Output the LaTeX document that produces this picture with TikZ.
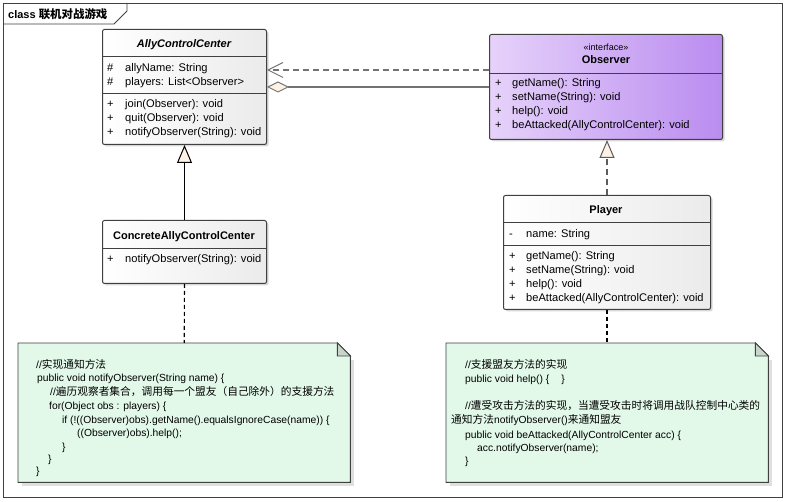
\documentclass[tikz,border=0pt]{standalone}
\usepackage{fontspec}
\setmainfont{Liberation Sans}
\newfontfamily\cjk[Scale=1.04]{Noto Sans CJK SC}
\usetikzlibrary{arrows.meta,shadows}

\definecolor{boxline}{RGB}{64,64,64}
\definecolor{ifaceleft}{RGB}{230,210,250}
\definecolor{ifaceright}{RGB}{186,140,240}
\definecolor{notefill}{RGB}{226,248,233}
\definecolor{foldfill}{RGB}{200,214,202}
\definecolor{tipfill}{RGB}{253,242,228}
\definecolor{linkgray}{RGB}{115,115,115}

\begin{document}
\begin{tikzpicture}[x=1pt, y=-1pt,
    classbox/.style={draw=boxline, line width=1pt, rounded corners=2pt, anchor=north west,
      inner sep=0, left color=white, right color=gray!16,
      drop shadow={shadow xshift=2pt, shadow yshift=-2pt, opacity=0.3}},
    ifacebox/.style={classbox, left color=ifaceleft, right color=ifaceright},
    divider/.style={draw=boxline, line width=1pt},
    ctitle/.style={inner sep=0, font=\fontsize{11}{13}\selectfont\bfseries},
    member/.style={anchor=west, inner sep=0, font=\fontsize{11.1}{13}\selectfont,
      text height=7.5pt, text depth=2pt},
    code/.style={anchor=west, inner sep=0, font=\fontsize{10.3}{12}\selectfont,
      text height=7.5pt, text depth=2.5pt},
    notearea/.style={anchor=north west, inner sep=0, draw=none},
    noteline/.style={draw=boxline, line width=0.9pt, fill=notefill},
    notefold/.style={draw=boxline, line width=0.9pt, fill=foldfill},
    noteshadow/.style={fill=gray!25},
    depline/.style={draw=linkgray, line width=1.2pt, dash pattern=on 6pt off 4pt,
      -{Straight Barb[length=15pt, width=15pt, line width=1pt]}},
    aggline/.style={draw=linkgray, line width=1.2pt,
      -{Diamond[length=22pt, width=11pt, fill=tipfill, line width=1pt]}},
    genline/.style={draw=black, line width=1.1pt,
      -{Triangle[length=18pt, width=15pt, fill=tipfill, line width=1pt]}},
    realline/.style={draw=linkgray!80!black, line width=1.2pt, dash pattern=on 6pt off 4pt,
      -{Triangle[length=18pt, width=15pt, fill=tipfill, line width=1pt]}},
    notelink/.style={draw=black, line width=1.1pt, dash pattern=on 4pt off 3pt},
  ]
  \fill[white] (0,0) rectangle (785,502);

  % --- frame and its tab ---
  \draw[boxline, line width=0.8pt] (3,3) rectangle (782,497);
  \draw[boxline, line width=0.8pt] (3,24) -- (114,24) -- (127,11) -- (127,3);
  \node[ctitle, anchor=west] (frametitle) at (8,14) {class {\cjk 联机对战游戏}};

  % --- AllyControlCenter ---
  \node[classbox, minimum width=164pt, minimum height=115pt] (acc) at (102,29) {};
  \draw[divider] (acc.west |- 0,57) -- (acc.east |- 0,57);
  \draw[divider] (acc.west |- 0,94) -- (acc.east |- 0,94);
  \node[ctitle, font=\fontsize{11}{13}\selectfont\bfseries\itshape] (acctitle) at (184,45) {AllyControlCenter};
  \node[member] (accv1) at (107,69) {\#};
  \node[member] (acca1) at (125,69) {allyName: String};
  \node[member] (accv2) at (107,83) {\#};
  \node[member] (acca2) at (125,83) {players: List<Observer>};
  \node[member] (accv3) at (107,105) {+};
  \node[member] (acco1) at (125,105) {join(Observer): void};
  \node[member] (accv4) at (107,119) {+};
  \node[member] (acco2) at (125,119) {quit(Observer): void};
  \node[member] (accv5) at (107,133) {+};
  \node[member] (acco3) at (125,133) {notifyObserver(String): void};

  % --- Observer (interface) ---
  \node[ifacebox, minimum width=233pt, minimum height=105pt] (observer) at (489,34) {};
  \draw[divider] (observer.west |- 0,74) -- (observer.east |- 0,74);
  \node[inner sep=0, font=\fontsize{9}{11}\selectfont] (obsstereo) at (606,47) {«interface»};
  \node[ctitle] (obstitle) at (606,60) {Observer};
  \node[member] (obsv1) at (495,84) {+};
  \node[member] (obso1) at (512,84) {getName(): String};
  \node[member] (obsv2) at (495,98) {+};
  \node[member] (obso2) at (512,98) {setName(String): void};
  \node[member] (obsv3) at (495,112) {+};
  \node[member] (obso3) at (512,112) {help(): void};
  \node[member] (obsv4) at (495,126) {+};
  \node[member] (obso4) at (512,126) {beAttacked(AllyControlCenter): void};

  % --- ConcreteAllyControlCenter ---
  \node[classbox, minimum width=164pt, minimum height=63pt] (cacc) at (102,220) {};
  \draw[divider] (cacc.west |- 0,249) -- (cacc.east |- 0,249);
  \node[ctitle] (cacctitle) at (184,237) {ConcreteAllyControlCenter};
  \node[member] (caccv1) at (107,260) {+};
  \node[member] (cacco1) at (125,260) {notifyObserver(String): void};

  % --- Player ---
  \node[classbox, minimum width=207pt, minimum height=114pt] (player) at (503,195) {};
  \draw[divider] (player.west |- 0,223) -- (player.east |- 0,223);
  \draw[divider] (player.west |- 0,246) -- (player.east |- 0,246);
  \node[ctitle] (playertitle) at (606,211) {Player};
  \node[member] (plv1) at (509,235) {-};
  \node[member] (pla1) at (526,235) {name: String};
  \node[member] (plv2) at (509,257) {+};
  \node[member] (plo1) at (526,257) {getName(): String};
  \node[member] (plv3) at (509,271) {+};
  \node[member] (plo2) at (526,271) {setName(String): void};
  \node[member] (plv4) at (509,285) {+};
  \node[member] (plo3) at (526,285) {help(): void};
  \node[member] (plv5) at (509,299) {+};
  \node[member] (plo4) at (526,299) {beAttacked(AllyControlCenter): void};

  % --- note for notifyObserver ---
  \node[notearea, minimum width=332pt, minimum height=139pt] (note1) at (18,343) {};
  \fill[noteshadow] ([shift={(4pt,-4pt)}]note1.south west) rectangle ([shift={(4pt,-17pt)}]note1.north east);
  \draw[noteline] (note1.south west) -- (note1.north west) -- ([xshift=-13pt]note1.north east)
    -- ([yshift=-13pt]note1.north east) -- (note1.south east) -- cycle;
  \draw[notefold] ([xshift=-13pt]note1.north east) -- ([xshift=-13pt, yshift=-13pt]note1.north east)
    -- ([yshift=-13pt]note1.north east) -- cycle;
  \node[code] (n1l1) at (36,366) {//{\cjk 实现通知方法}};
  \node[code] (n1l2) at (37,379) {public void notifyObserver(String name) \{};
  \node[code] (n1l3) at (50,393) {//{\cjk 遍历观察者集合，调用每一个盟友（自己除外）的支援方法}};
  \node[code] (n1l4) at (49,407) {for(Object obs : players) \{};
  \node[code] (n1l5) at (62,421) {if (!((Observer)obs).getName().equalsIgnoreCase(name)) \{};
  \node[code] (n1l6) at (77,434) {((Observer)obs).help();};
  \node[code] (n1l7) at (62,448) {\}};
  \node[code] (n1l8) at (48,460) {\}};
  \node[code] (n1l9) at (36,472) {\}};

  % --- note for help / beAttacked ---
  \node[notearea, minimum width=322pt, minimum height=139pt] (note2) at (446,343) {};
  \fill[noteshadow] ([shift={(4pt,-4pt)}]note2.south west) rectangle ([shift={(4pt,-17pt)}]note2.north east);
  \draw[noteline] (note2.south west) -- (note2.north west) -- ([xshift=-13pt]note2.north east)
    -- ([yshift=-13pt]note2.north east) -- (note2.south east) -- cycle;
  \draw[notefold] ([xshift=-13pt]note2.north east) -- ([xshift=-13pt, yshift=-13pt]note2.north east)
    -- ([yshift=-13pt]note2.north east) -- cycle;
  \node[code] (n2l1) at (465,366) {//{\cjk 支援盟友方法的实现}};
  \node[code] (n2l2) at (465,380) {public void help() \{\hspace{12pt}\}};
  \node[code] (n2l3) at (465,407) {//{\cjk 遭受攻击方法的实现，当遭受攻击时将调用战队控制中心类的}};
  \node[code] (n2l4) at (451,421) {{\cjk 通知方法}notifyObserver(){\cjk 来通知盟友}};
  \node[code] (n2l5) at (465,436) {public void beAttacked(AllyControlCenter acc) \{};
  \node[code] (n2l6) at (477,449) {acc.notifyObserver(name);};
  \node[code] (n2l7) at (465,462) {\}};

  % --- connectors ---
  \draw[depline] ([yshift=17pt]observer.west) -- ([yshift=17pt]acc.east);
  \draw[aggline] (observer.west) -- (acc.east);
  \draw[genline] (cacc.north) -- (acc.south);
  \draw[realline] (player.north) -- (player.north |- observer.south);
  \draw[notelink] (cacc.south) -- (note1.north);
  \draw[notelink] (player.south) -- (player.south |- note2.north);
\end{tikzpicture}
\end{document}
